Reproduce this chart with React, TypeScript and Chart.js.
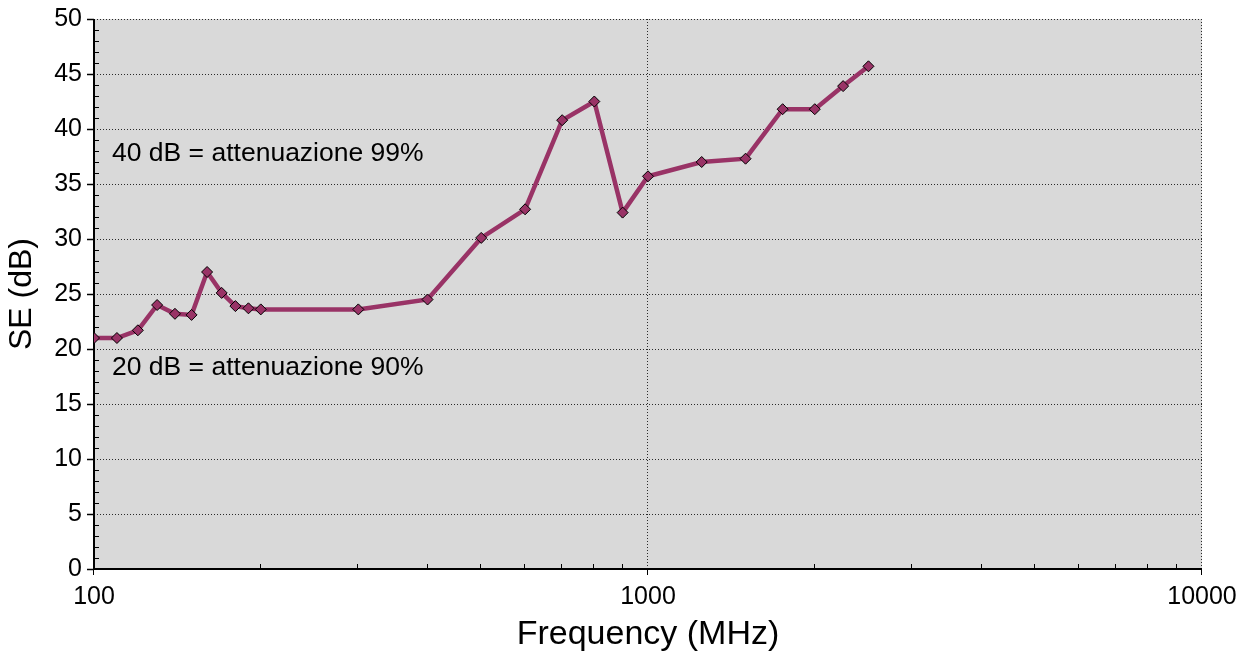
import React, { useEffect, useRef } from 'react';
import { Chart, registerables } from 'chart.js';

Chart.register(...registerables);

const FONT = '"Liberation Sans", Arial, sans-serif';

const frequencies = [100, 110, 120, 130, 140, 150, 160, 170, 180, 190, 200, 300, 400, 500, 600, 700, 800, 900, 1000, 1250, 1500, 1750, 2000, 2250, 2500];
const seValues = [21.0, 21.0, 21.7, 24.0, 23.2, 23.1, 27.0, 25.1, 23.9, 23.7, 23.6, 23.6, 24.5, 30.1, 32.7, 40.8, 42.5, 32.4, 35.7, 37.0, 37.3, 41.8, 41.8, 43.9, 45.7];

const xMajorTicks = [100, 1000, 10000];
const xMinorTicks = [200, 300, 400, 500, 600, 700, 800, 900, 2000, 3000, 4000, 5000, 6000, 7000, 8000, 9000];
const yMin = 0;
const yMax = 50;
const yStep = 5;
const yMinorStep = 1;

const annotationTexts = ['40 dB = attenuazione 99%', '20 dB = attenuazione 90%'];
const annotationYValues = [37.8, 18.3];

const decorPlugin = {
  id: 'decor',
  beforeDraw(chart: any) {
    const { ctx, chartArea: a } = chart;
    const xs = chart.scales.x;
    const ys = chart.scales.y;
    ctx.save();
    ctx.fillStyle = '#d9d9d9';
    ctx.fillRect(a.left, a.top, a.right - a.left, a.bottom - a.top);
    ctx.strokeStyle = '#2a2a2a';
    ctx.lineWidth = 1;
    ctx.setLineDash([1, 2]);
    for (let v = yMin + yStep; v <= yMax; v += yStep) {
      const y = Math.round(ys.getPixelForValue(v)) + 0.5;
      ctx.beginPath();
      ctx.moveTo(a.left, y);
      ctx.lineTo(a.right, y);
      ctx.stroke();
    }
    for (const v of xMajorTicks.slice(1)) {
      const x = Math.round(xs.getPixelForValue(v)) - 0.5;
      ctx.beginPath();
      ctx.moveTo(x, a.top);
      ctx.lineTo(x, a.bottom);
      ctx.stroke();
    }
    ctx.setLineDash([]);
    ctx.restore();
  },
  beforeDatasetsDraw(chart: any) {
    const { ctx, chartArea: a } = chart;
    const xs = chart.scales.x;
    const ys = chart.scales.y;
    ctx.save();
    // annotations
    ctx.fillStyle = '#000';
    ctx.font = `26.5px ${FONT}`;
    ctx.textBaseline = 'middle';
    ctx.textAlign = 'left';
    annotationTexts.forEach((t, i) => {
      ctx.fillText(t, a.left + 18, ys.getPixelForValue(annotationYValues[i]));
    });
    // axis lines
    ctx.fillStyle = '#000';
    ctx.fillRect(a.left - 1, a.top, 2, a.bottom - a.top + 1);
    ctx.fillRect(a.left - 1, a.bottom - 1, a.right - a.left + 1, 2);
    ctx.strokeStyle = '#000';
    ctx.lineWidth = 1;
    // y ticks
    for (let v = yMin; v <= yMax; v += yMinorStep) {
      const y = Math.round(ys.getPixelForValue(v)) + 0.5;
      ctx.beginPath();
      if (v % yStep === 0) {
        ctx.lineWidth = 1.5;
        ctx.moveTo(a.left - 7, y);
        ctx.lineTo(a.left, y);
      } else {
        ctx.lineWidth = 1;
        ctx.moveTo(a.left, y);
        ctx.lineTo(a.left + 5, y);
      }
      ctx.stroke();
    }
    ctx.lineWidth = 1;
    for (const v of xMajorTicks) {
      const x = Math.round(xs.getPixelForValue(v)) - 0.5;
      ctx.beginPath();
      ctx.moveTo(x, a.bottom);
      ctx.lineTo(x, a.bottom + 6);
      ctx.stroke();
    }
    for (const v of xMinorTicks) {
      const x = Math.round(xs.getPixelForValue(v)) - 0.5;
      ctx.beginPath();
      ctx.moveTo(x, a.bottom);
      ctx.lineTo(x, a.bottom - 5);
      ctx.stroke();
    }
    ctx.restore();
  },
};

export default function App() {
  const canvasRef = useRef<HTMLCanvasElement | null>(null);

  useEffect(() => {
    document.body.style.margin = '0';
    const canvas = canvasRef.current;
    if (!canvas) return;
    const chart = new Chart(canvas, {
      type: 'line',
      data: {
        datasets: [
          {
            data: frequencies.map((f, i) => ({ x: f, y: seValues[i] })),
            borderColor: '#993366',
            backgroundColor: '#993366',
            borderWidth: 4.5,
            tension: 0,
            pointStyle: 'rectRot',
            pointRadius: 5.5,
            pointBackgroundColor: '#993366',
            pointBorderColor: '#000000',
            pointBorderWidth: 1,
          },
        ],
      },
      options: {
        animation: false,
        responsive: false,
        layout: { padding: { top: 19, right: 45, left: 0, bottom: 0 } },
        plugins: { legend: { display: false }, tooltip: { enabled: false } },
        scales: {
          x: {
            type: 'logarithmic',
            min: 100,
            max: 10000,
            afterBuildTicks: (s: any) => {
              s.ticks = xMajorTicks.map((v) => ({ value: v }));
            },
            afterFit: (s: any) => {
              s.height = 84;
              s.paddingLeft = 0;
              s.paddingRight = 0;
            },
            grid: { display: false, drawTicks: false, tickLength: 0 },
            border: { display: false },
            ticks: {
              autoSkip: false,
              maxRotation: 0,
              padding: 13,
              color: '#000',
              font: { family: FONT, size: 25 },
              callback: (v: any) => String(v),
            },
            title: {
              display: true,
              text: 'Frequency (MHz)',
              color: '#000',
              font: { family: FONT, size: 34, lineHeight: 1 },
              padding: { top: 0, bottom: 1 },
            },
          },
          y: {
            min: yMin,
            max: yMax,
            afterFit: (s: any) => {
              s.width = 94;
              s.paddingTop = 0;
              s.paddingBottom = 0;
            },
            grid: { display: false, drawTicks: false, tickLength: 0 },
            border: { display: false },
            ticks: {
              stepSize: yStep,
              padding: 12,
              color: '#000',
              font: { family: FONT, size: 25 },
            },
            title: {
              display: true,
              text: 'SE (dB)',
              color: '#000',
              font: { family: FONT, size: 32, lineHeight: 1 },
              padding: { top: 6, bottom: 0 },
            },
          },
        },
      } as any,
      plugins: [decorPlugin],
    });
    return () => chart.destroy();
  }, []);

  return (
    <div style={{ position: 'absolute', left: 0, top: 0, width: 1247, height: 653 }}>
      <canvas ref={canvasRef} width={1247} height={653} style={{ display: 'block' }} />
    </div>
  );
}
